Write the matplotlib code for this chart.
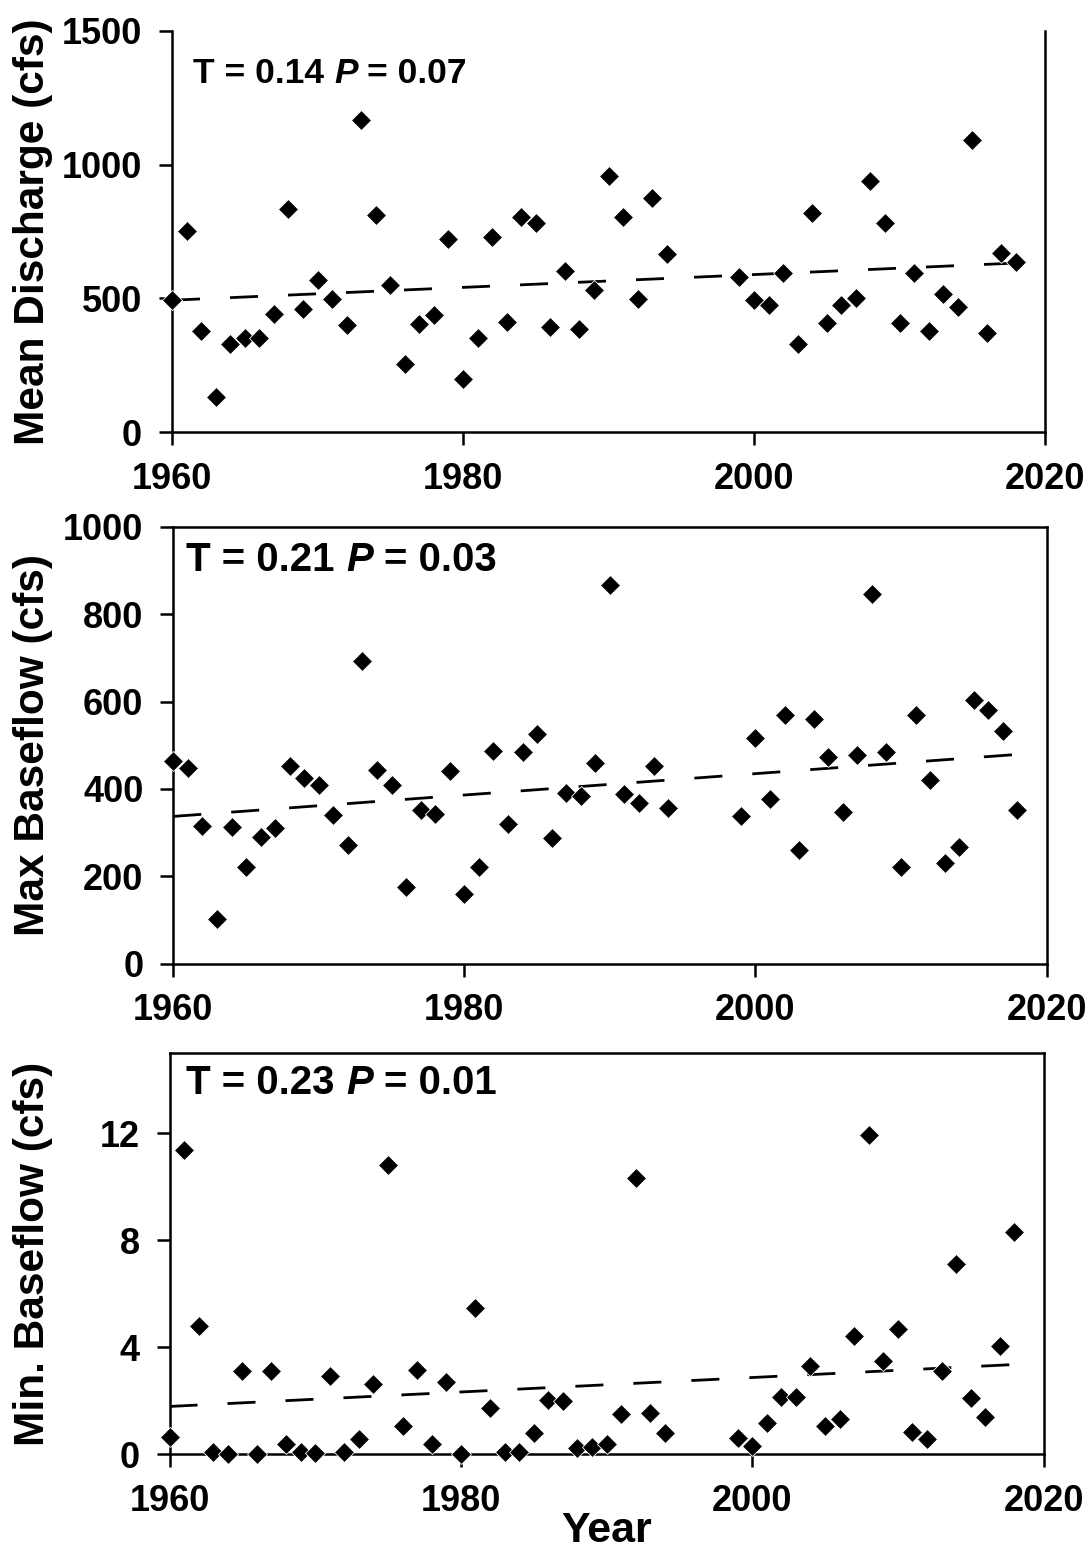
import matplotlib
matplotlib.use('agg')
from matplotlib import pyplot as plt

plt.rcParams['font.family'] = ['Liberation Sans', 'DejaVu Sans']
plt.rcParams['font.weight'] = 'bold'

# data
years = list(range(1960, 1995)) + list(range(1999, 2019))

mean_q = [493, 752, 378, 130, 328, 350, 350, 440, 833, 460,
          570, 497, 402, 1168, 812, 550, 255, 405, 436, 721,
          199, 352, 729, 410, 803, 781, 393, 602, 384, 532,
          958, 804, 497, 877, 665,
          581, 495, 474, 595, 329, 819, 409, 476, 502, 939,
          780, 409, 596, 378, 515, 467, 1093, 369, 670, 637]

max_bf = [463, 448, 314, 102, 312, 222, 289, 310, 452, 424,
          408, 340, 272, 693, 443, 410, 176, 352, 343, 442,
          159, 221, 486, 320, 485, 526, 287, 391, 383, 460,
          866, 389, 368, 452, 356,
          337, 516, 378, 569, 260, 559, 473, 347, 477, 847,
          484, 220, 569, 421, 230, 267, 603, 581, 532, 351]

min_bf = [0.63, 11.37, 4.81, 0.08, 0.0, 3.12, 0.0, 3.12, 0.36, 0.06,
          0.05, 2.91, 0.09, 0.56, 2.63, 10.8, 1.03, 3.13, 0.38, 2.69,
          0.0, 5.48, 1.74, 0.06, 0.09, 0.78, 2.03, 1.97, 0.24, 0.28,
          0.39, 1.5, 10.34, 1.55, 0.8,
          0.59, 0.31, 1.15, 2.15, 2.15, 3.28, 1.06, 1.3, 4.41, 11.95,
          3.5, 4.69, 0.81, 0.55, 3.09, 7.13, 2.09, 1.38, 4.03, 8.32]

trend_years = [1960, 2018]
mean_q_trend = [493, 632]
max_bf_trend = [337, 479]
min_bf_trend = [1.78, 3.35]

ylabels = ['Mean Discharge (cfs)', 'Max Baseflow (cfs)', 'Min. Baseflow (cfs)']
tau = ['0.14', '0.21', '0.23']
pval = ['0.07', '0.03', '0.01']
yticks = [[0, 500, 1000, 1500], [0, 200, 400, 600, 800, 1000], [0, 4, 8, 12]]
ylims = [1500, 1000, 15]
xticks = [1960, 1980, 2000, 2020]

W, H = 1089, 1549
fig = plt.figure(figsize=(W / 100, H / 100), dpi=100)

# axes boxes in pixels: left, top, right, bottom
boxes = [(172, 31, 1045, 432), (173.3, 527, 1046.5, 963.5), (169.5, 1053.3, 1043.5, 1454)]
# stats text (axes fraction x, baseline y, fontsize)
stat_pos = [(0.024, 0.871, 25.5), (0.015, 0.899, 29), (0.019, 0.898, 29)]

series = [mean_q, max_bf, min_bf]
trends = [mean_q_trend, max_bf_trend, min_bf_trend]

lw = 2.0
for i in range(3):
    l, t, r, b = boxes[i]
    ax = fig.add_axes([l / W, 1 - b / H, (r - l) / W, (b - t) / H])

    ax.plot(trend_years, trends[i], color='black', lw=lw,
            dashes=(20.2 / lw, 21.6 / lw), zorder=2)
    ax.plot(years, series[i], 'D', color='black', ms=10.5, mec='white', mew=0.6,
            clip_on=False, zorder=3)

    ax.set_xlim(1960, 2020)
    ax.set_ylim(0, ylims[i])
    ax.set_xticks(xticks)
    ax.set_yticks(yticks[i])

    for sp in ax.spines.values():
        sp.set_linewidth(1.8)
    if i == 0:
        ax.spines['top'].set_visible(False)

    ax.tick_params(direction='out', length=9.5, width=1.8, pad=12,
                   labelsize=26, top=False, right=False)
    for lab in ax.get_xticklabels() + ax.get_yticklabels():
        lab.set_fontweight('bold')

    ax.set_ylabel(ylabels[i], fontsize=30.5, fontweight='bold', va='center')
    ax.yaxis.set_label_coords((33 - l) / (r - l), 0.5)

    # T = .. P = .. with italic P
    x, y, fs = stat_pos[i]
    sep = 0.278 * fs
    t1 = ax.text(x, y, 'T = ' + tau[i], transform=ax.transAxes, fontsize=fs,
                 fontweight='bold', va='baseline', ha='left')
    t2 = ax.annotate('P', xy=(1, 0), xycoords=t1, xytext=(sep, 0),
                     textcoords='offset points', fontsize=fs, fontweight='bold',
                     style='italic', va='bottom', ha='left')
    ax.annotate('= ' + pval[i], xy=(1, 0), xycoords=t2, xytext=(sep, 0),
                textcoords='offset points', fontsize=fs, fontweight='bold',
                va='bottom', ha='left')

    if i == 2:
        ax.set_xlabel('Year', fontsize=31, fontweight='bold', labelpad=-6)

plt.savefig('out.png', dpi=100)
